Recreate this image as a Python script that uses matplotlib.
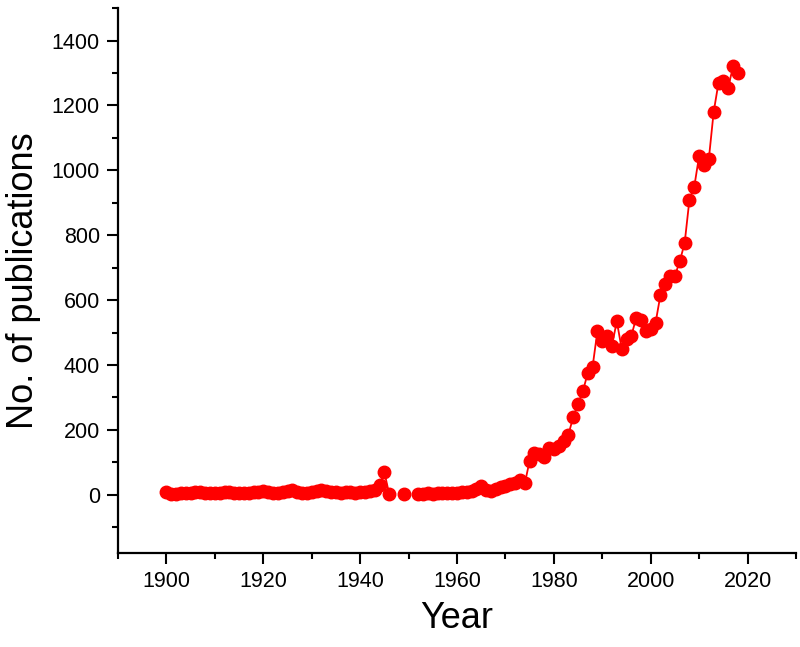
import numpy as np
from matplotlib import pyplot as plt
from matplotlib.ticker import MultipleLocator

plt.rcParams['font.family'] = ['Liberation Sans', 'DejaVu Sans']

years = np.arange(1900, 2019)

# publications per year, NaN where no value was recorded
pubs_1900_1946 = [8, 3, 2, 4, 5, 6, 8, 10, 7, 5,
                  6, 4, 8, 10, 6, 5, 4, 6, 8, 10,
                  12, 9, 7, 5, 8, 12, 14, 10, 7, 6,
                  8, 12, 15, 11, 9, 8, 7, 10, 9, 6,
                  8, 10, 12, 15, 30, 70, 2]
pubs_1947_1951 = [np.nan, np.nan, 2, np.nan, np.nan]
pubs_1952_1974 = [3, 3, 4, 3, 4, 4, 5, 6, 7, 8,
                  9, 12, 18, 28, 15, 12, 18, 25, 28, 33,
                  35, 45, 35]
pubs_1975_2018 = [105, 130, 125, 115, 145, 140, 150, 165, 185, 240,
                  280, 320, 375, 395, 505, 475, 490, 460, 535, 450,
                  480, 490, 545, 540, 505, 510, 530, 615, 650, 675,
                  675, 720, 775, 910, 950, 1045, 1015, 1035, 1180, 1270,
                  1275, 1255, 1320, 1300]

pubs = np.array(pubs_1900_1946 + pubs_1947_1951 + pubs_1952_1974 + pubs_1975_2018, dtype=float)

fig = plt.figure(figsize=(8, 6.47), dpi=100)
ax = fig.add_axes([0.1475, 0.145, 0.8475, 0.8425])

ax.plot(years, pubs, color='red', lw=1.3, marker='o', ms=9, mec='red', mfc='red')

ax.set_xlim(1890, 2030)
ax.set_ylim(-180, 1500)
ax.xaxis.set_major_locator(MultipleLocator(20))
ax.xaxis.set_minor_locator(MultipleLocator(10))
ax.yaxis.set_major_locator(MultipleLocator(200))
ax.yaxis.set_minor_locator(MultipleLocator(100))

ax.spines['top'].set_visible(False)
ax.spines['right'].set_visible(False)
for s in ['left', 'bottom']:
    ax.spines[s].set_linewidth(1.6)

ax.tick_params(which='major', length=8, width=1.5, labelsize=15.5, pad=5)
ax.tick_params(which='minor', length=4.5, width=1.5)

ax.set_xlabel('Year', size=26, labelpad=6)
ax.set_ylabel('No. of publications', size=26, labelpad=8)

fig.savefig('out.png', dpi=100)
